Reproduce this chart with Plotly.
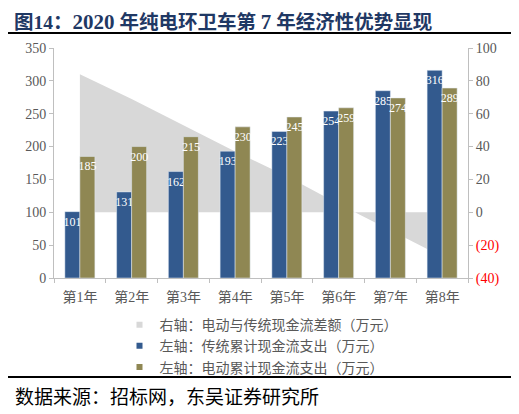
import plotly.graph_objects as go

years = ['第1年', '第2年', '第3年', '第4年', '第5年', '第6年', '第7年', '第8年']
traditional = [101, 131, 162, 193, 223, 254, 285, 316]
electric = [185, 200, 215, 230, 245, 259, 274, 289]
diff = [84, 69, 53, 37, 22, 5, -11, -27]

left_ticks = [0, 50, 100, 150, 200, 250, 300, 350]
right_ticks = [-40, -20, 0, 20, 40, 60, 80, 100]
right_labels = ['<span style="color:#ff0000">(40)</span>', '<span style="color:#ff0000">(20)</span>',
                '0', '20', '40', '60', '80', '100']

names = ['右轴：电动与传统现金流差额（万元）', '左轴：传统累计现金流支出（万元）', '左轴：电动累计现金流支出（万元）']
colors = ['#d8d8d8', '#335a8e', '#8f8753']

serif = 'Liberation Serif, Noto Sans CJK SC'
cjk = 'Noto Sans CJK SC'
grey = '#595959'

fig = go.Figure()
fig.add_trace(go.Scatter(x=years, y=diff, mode='none', fill='tozeroy', fillcolor=colors[0],
                         showlegend=False, yaxis='y'))
for vals, c in [(traditional, colors[1]), (electric, colors[2])]:
    fig.add_trace(go.Bar(x=years, y=vals, marker_color=c, showlegend=False,
                         text=vals, textposition='inside', insidetextanchor='end', constraintext='none',
                         textangle=0, textfont=dict(color='white', size=12, family=serif), yaxis='y2'))

# legend entries with small square keys
for n, c in zip(names, colors):
    fig.add_trace(go.Scatter(x=[None], y=[None], mode='markers', name=n, yaxis='y2',
                             marker=dict(symbol='square', size=6, color=c)))

# page body adds an 8px offset, so the figure is sized to fit inside it
fig.update_layout(
    width=511, height=406,
    margin=dict(l=46, r=51, t=40, b=136),
    plot_bgcolor='white', paper_bgcolor='white',
    barmode='group', bargap=0.42, bargroupgap=0,
    showlegend=True,
    legend=dict(orientation='v', x=0.5, xanchor='center', y=-0.135, yanchor='top',
                font=dict(family=cjk, size=14, color=grey), tracegroupgap=0,
                itemwidth=30, bgcolor='rgba(0,0,0,0)'),
    xaxis=dict(showline=True, linecolor='#bfbfbf', ticks='outside', tickson='boundaries', ticklen=4,
               tickcolor='#bfbfbf', tickfont=dict(family=serif, size=14, color=grey), showgrid=False,
               ticklabelstandoff=6),
    yaxis=dict(side='right', range=[-40, 100], tickvals=right_ticks, ticktext=right_labels,
               showline=True, linecolor='#bfbfbf', ticks='outside', ticklen=4, tickcolor='#bfbfbf',
               tickfont=dict(family=serif, size=14, color=grey), showgrid=False, zeroline=False),
    yaxis2=dict(side='left', overlaying='y', range=[0, 350], tickvals=left_ticks,
                showline=True, linecolor='#bfbfbf', ticks='outside', ticklen=4, tickcolor='#bfbfbf',
                tickfont=dict(family=serif, size=14, color=grey), showgrid=False, zeroline=False),
)

title = ('<b>图14：<span style="font-size:21px">2020</span> 年纯电环卫车第 '
         '<span style="font-size:21px">7</span> 年经济性优势显现</b>')
fig.add_annotation(text=title, xref='paper', yref='paper',
                   x=-0.1, y=1.168, xanchor='left', yanchor='top', showarrow=False,
                   font=dict(family=serif, size=19.5, color='#1f3864'), borderpad=0)
fig.add_annotation(text='数据来源：招标网，东吴证券研究所', xref='paper', yref='paper',
                   x=-0.1, y=-0.51, xanchor='left', yanchor='middle', showarrow=False,
                   font=dict(family=cjk, size=19, color='black'))
fig.add_shape(type='line', xref='paper', yref='paper', x0=-0.118, x1=1.109, y0=1.065, y1=1.065,
              line=dict(color='black', width=2))
fig.add_shape(type='line', xref='paper', yref='paper', x0=-0.118, x1=1.109, y0=-0.43, y1=-0.43,
              line=dict(color='black', width=2))

fig.write_html('out.html')
